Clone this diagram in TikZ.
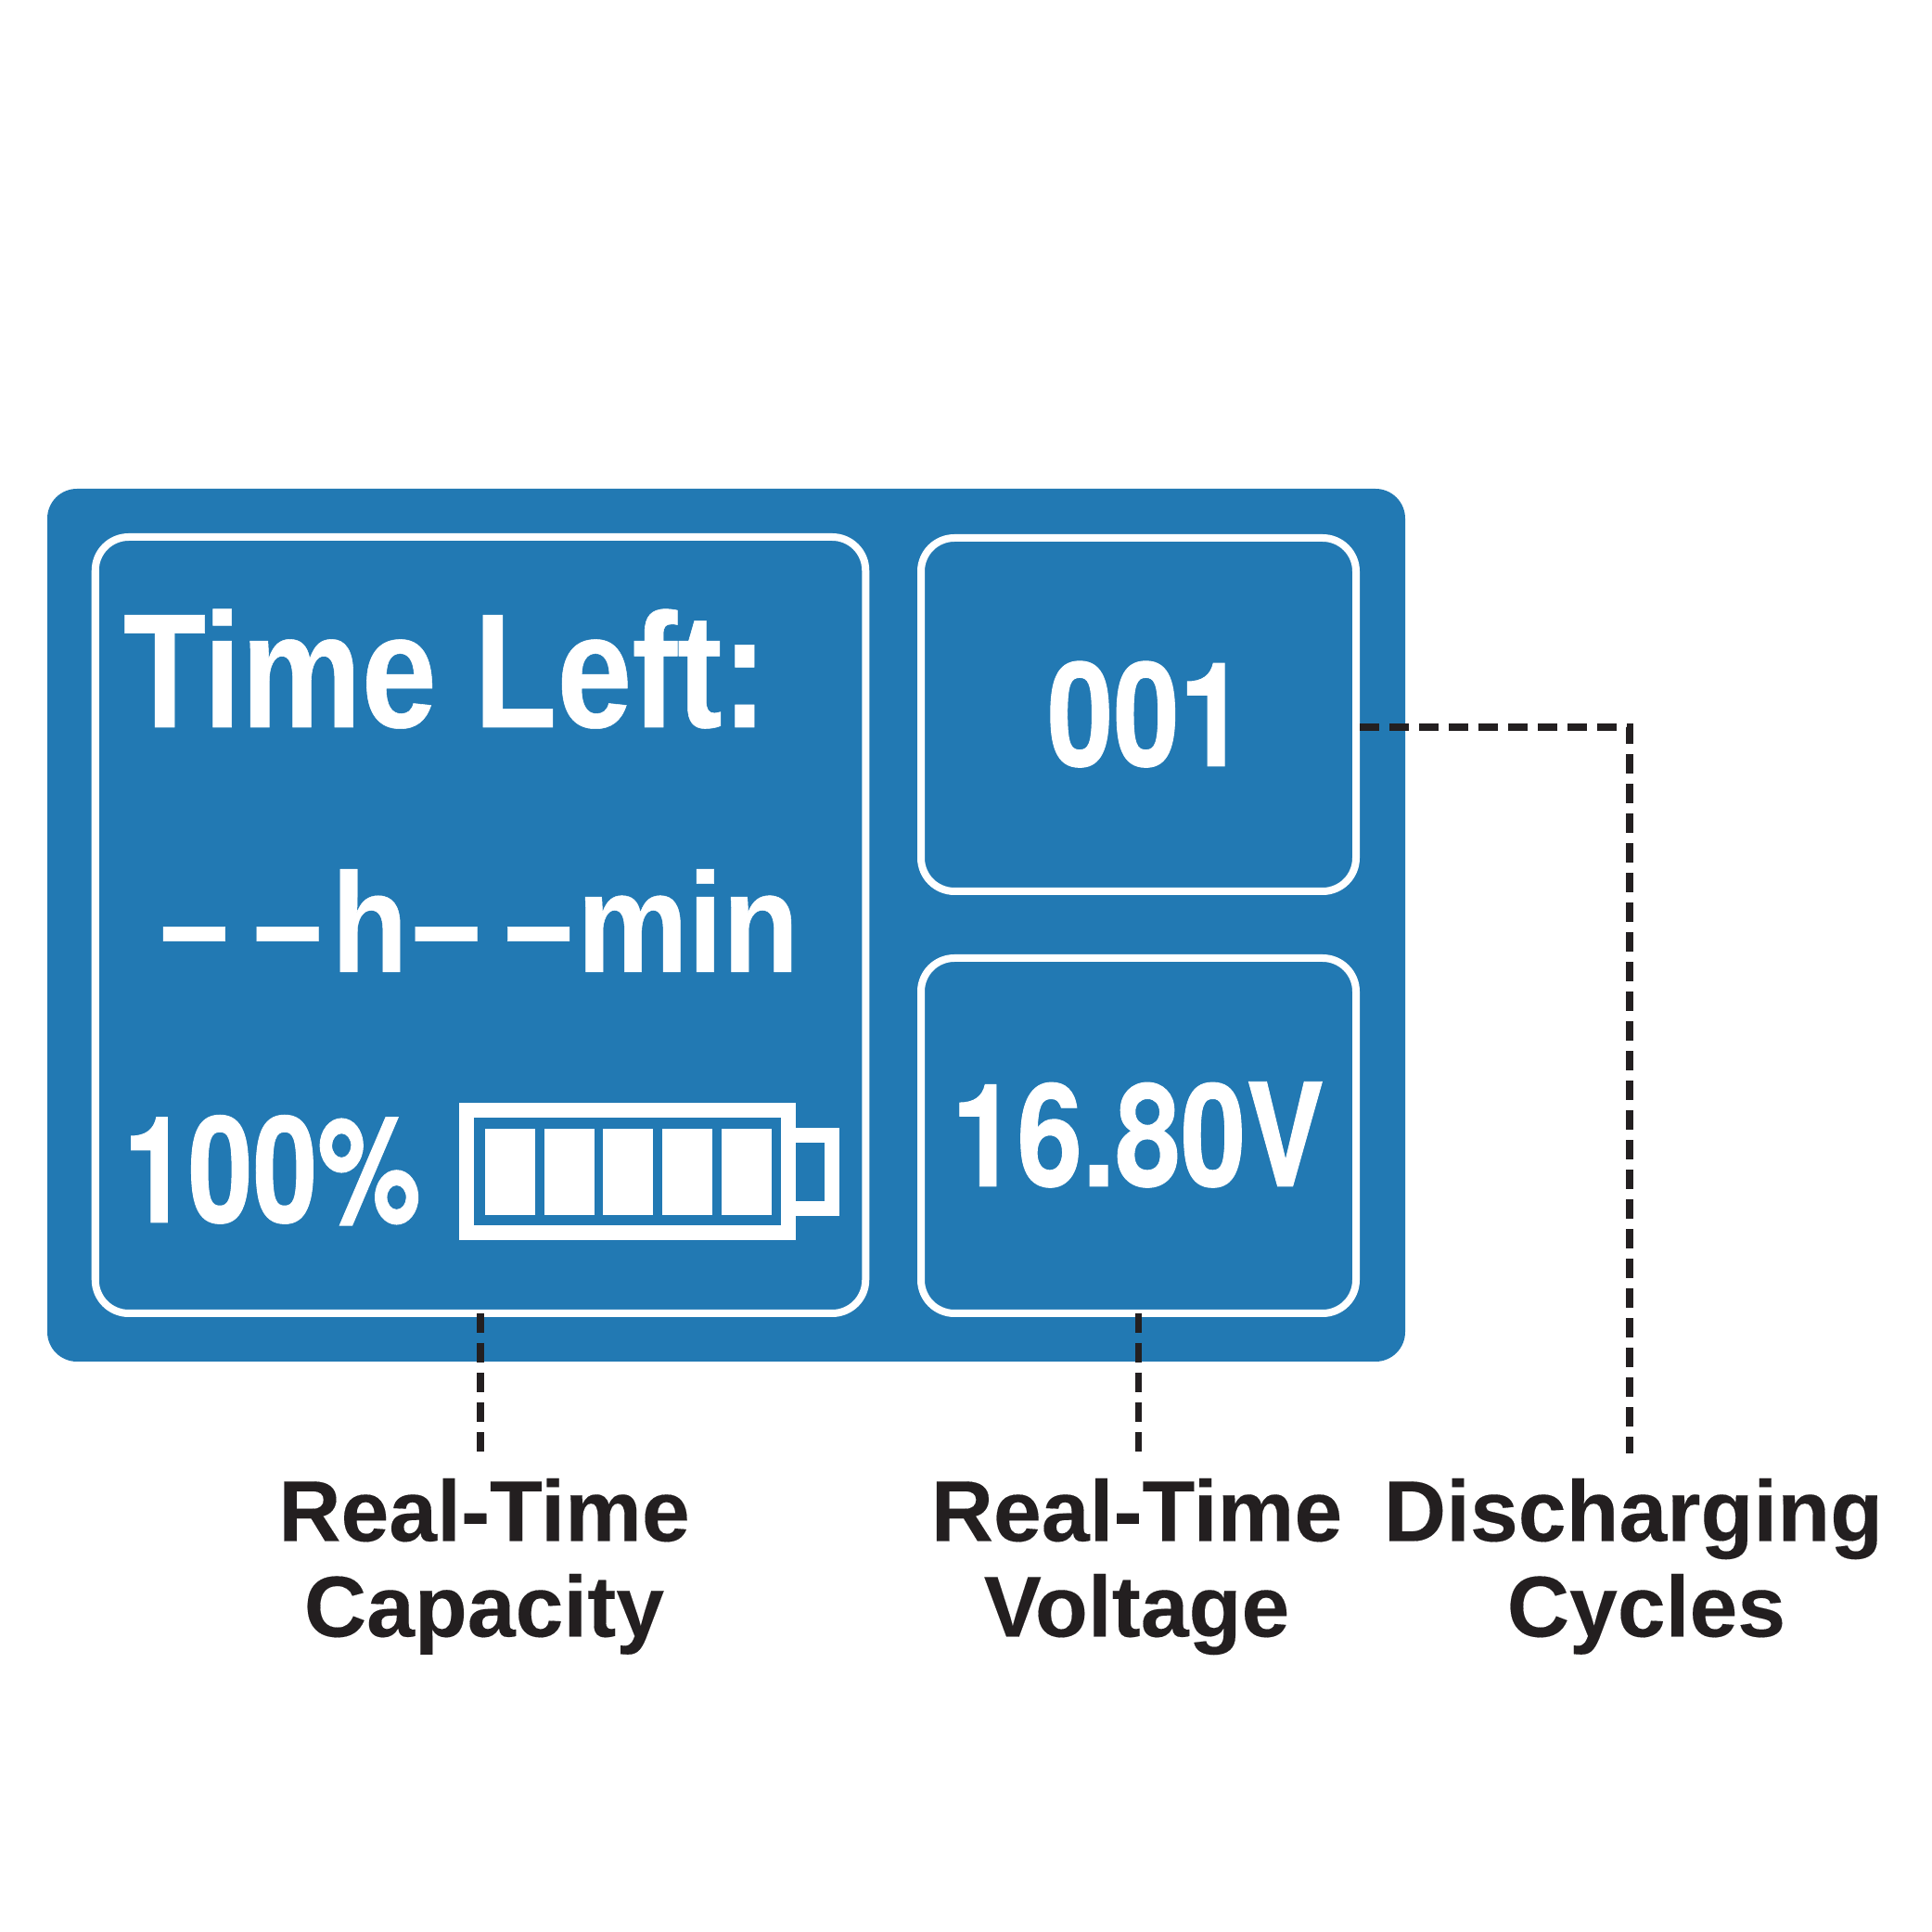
\documentclass[tikz,border=0pt]{standalone}
\usepackage{fontspec}
\setmainfont[FakeBold=0.15]{Liberation Sans}
\newfontfamily\lcdfont[FakeStretch=0.83,FakeBold=0.3]{Liberation Sans}
\newfontfamily\lcdwide[FakeStretch=0.88,FakeBold=0.3]{Liberation Sans}
\newfontfamily\lcddigit[FakeStretch=0.82,FakeBold=0.6]{TeX Gyre Heros}
\newfontfamily\lcdtight[FakeStretch=0.785,FakeBold=0.6]{TeX Gyre Heros}
\usetikzlibrary{positioning}
\definecolor{panelblue}{HTML}{2279B3}
\definecolor{leaderblack}{HTML}{231F20}
\newcommand{\lcdgap}[1]{\kern#1pt\relax}
\tikzset{
    panelbox/.style={draw=white, line width=0.08cm, rounded corners=0.36cm, minimum height=3.81cm, minimum width=4.69cm, inner sep=0pt, outer sep=0pt},
    lcdtext/.style={text=white, inner sep=0pt, outer sep=0pt, font=\bfseries\fontsize{#1}{#1}\selectfont},
    callout/.style={text=leaderblack, align=center, inner sep=0pt, outer sep=0pt, font=\bfseries\fontsize{26.5}{29.3}\selectfont},
    leader/.style={draw=leaderblack, line width=0.075cm, dash pattern=on 0.21cm off 0.11cm},
    battline/.style={draw=white, line width=0.16cm}
}
\begin{document}
\begin{tikzpicture}
    \useasboundingbox (0,0) rectangle (20.83,20.83);

    % Panel
    \node[fill=panelblue, rounded corners=0.32cm, minimum width=14.64cm, minimum height=9.41cm, inner sep=0pt, outer sep=0pt] (panel) at (7.83,10.855) {};

    % Boxes
    \node[panelbox, minimum width=8.305cm, minimum height=8.37cm] (capbox) at (5.18,10.855) {};
    \node[panelbox] (cyclebox) at (12.275,13.125) {};
    \node[panelbox, minimum height=3.83cm] (voltbox) at (12.275,8.585) {};

    % Left box texts
    \node[lcdtext=50, anchor=base west] (timeleft) at (1.33,12.99) {\lcdfont Time Left:};
    \node[lcdtext=43.5, anchor=base west] (timevalue) at (1.72,10.35) {\lcdwide –\lcdgap{7.4}–\lcdgap{2.8}h\lcdgap{1.2}–\lcdgap{7}–\lcdgap{1.2}min};
    \node[lcdtext=45.5, anchor=base west] (percent) at (1.33,7.65) {\lcdtight 100\%};

    % Right box texts
    \node[lcdtext=44.5, anchor=base] (cycleval) at (12.36,12.57) {\lcddigit 001};
    \node[lcdtext=44, anchor=base] (voltval) at (12.27,8.04) {\lcddigit 16.80V};

    % Battery
    \draw[battline] (5.03,7.54) rectangle (8.50,8.86);
    \draw[battline] (8.50,7.80) rectangle (8.97,8.59);
    \foreach \cellx in {5.23,5.87,6.50,7.14,7.78}
        \fill[white] (\cellx,7.73) rectangle ++(0.54,0.93);

    % Callout ends
    \coordinate (capend) at (5.18,5.16);
    \coordinate (voltend) at (12.275,5.16);
    \coordinate (cyclecorner) at (17.57,12.99);
    \coordinate (cycleend) at (17.57,5.16);

    % Callouts
    \node[callout, below=0.27cm of capend, xshift=0.04cm] (caplabel) {Real-Time\\Capacity};
    \node[callout, below=0.27cm of voltend, xshift=-0.02cm] (voltlabel) {Real-Time\\Voltage};
    \node[callout, below=0.27cm of cycleend, xshift=0.04cm] (cyclelabel) {Discharging\\\hspace*{0.28cm}Cycles};

    % Leaders
    \draw[leader] (capbox.south) -- (capend);
    \draw[leader] (voltbox.south) -- (voltend);
    \draw[leader] ([xshift=0.04cm]cyclebox.east |- cyclecorner) -- (cyclecorner) -- (cycleend);
\end{tikzpicture}
\end{document}
